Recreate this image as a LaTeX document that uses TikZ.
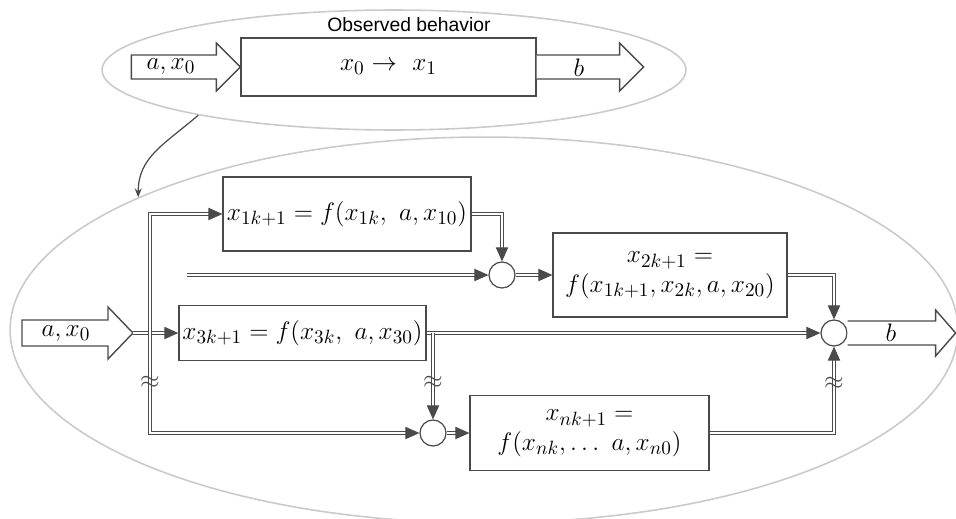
\documentclass[tikz,border=0pt]{standalone}
\usepackage{fontspec}
\newfontfamily\obsfont{Liberation Sans}
\usetikzlibrary{arrows.meta,calc,shapes.geometric}
\definecolor{ln}{HTML}{4A4A4A}
\definecolor{oval}{HTML}{CACACA}
\tikzset{
  >={Triangle[length=8pt,width=7pt]},
  eqbox/.style={draw=ln,line width=0.7pt,fill=white,inner sep=2pt,align=center,
    font=\fontsize{15.5}{17}\selectfont},
  sumnode/.style={circle,draw=ln,line width=0.7pt,fill=white,minimum size=0.52cm,
    inner sep=0pt},
  dline/.style={->,draw=ln,line width=0.65pt,double=white,double distance=0.9pt},
  blkarrow/.style={draw=ln,line width=0.8pt,fill=white,line join=miter},
  blklbl/.style={font=\fontsize{15.5}{17}\selectfont,inner sep=0pt},
  ovalbg/.style={ellipse,draw=oval,line width=0.9pt,inner sep=0pt},
  brk/.style={font=\fontsize{14}{14}\selectfont,inner sep=0pt,text=ln},
  linkarc/.style={-{Stealth[length=5pt,width=4pt]},draw=ln,line width=0.7pt},
}
\begin{document}
\begin{tikzpicture}[x=0.02cm,y=-0.02cm]
  \useasboundingbox (0,0) rectangle (956,518);
  \begin{scope}
    \clip (0,0) rectangle (956,518);
    \node[ovalbg,minimum width=11.68cm,minimum height=2.4cm] (obsview) at (394,70) {};
    \node[ovalbg,minimum width=18.96cm,minimum height=7.72cm] (model) at (484,330) {};
  \end{scope}

  \node[font=\obsfont\fontsize{11}{13}\selectfont] (obslbl) at (409,25) {Observed behavior};
  \node[eqbox,minimum width=5.9cm,minimum height=1.16cm] (obsbox) at (388.5,67)
    {$x_0 \rightarrow\ x_1$};
  \draw[blkarrow] (obsbox.west) -- ++(-24,-24) -- ++(0,12) -- ++(-85,0) -- ++(0,24)
    -- ++(85,0) -- ++(0,12) -- cycle;
  \node[blklbl] (inlbltop) at (171,67) {$a, x_0$};
  \draw[blkarrow] ($(obsbox.east)+(0,-12)$) -- ++(83,0) -- ++(0,-12) -- ++(24,24)
    -- ++(-24,24) -- ++(0,-12) -- ++(-83,0);
  \node[blklbl] (outlbltop) at (579,68) {$b$};
  \draw[linkarc] (obsview.193) .. controls +(-35,30) and +(0,-40) .. (model.159);

  \node[eqbox,minimum width=4.96cm,minimum height=1.48cm] (eqone) at (347,214)
    {$x_{1k+1} = f(x_{1k},\ a, x_{10})$};
  \node[eqbox,minimum width=4.9cm,minimum height=1.1cm] (eqthree) at (302.5,333)
    {$x_{3k+1} = f(x_{3k},\ a, x_{30})$};
  \node[eqbox,minimum width=4.68cm,minimum height=1.68cm] (eqtwo) at (670,275)
    {$x_{2k+1} =$\\$f(x_{1k+1}, x_{2k}, a, x_{20})$};
  \node[eqbox,minimum width=4.78cm,minimum height=1.5cm] (eqn) at (589.5,433)
    {$x_{nk+1} =$\\$f(x_{nk},\ldots\ a, x_{n0})$};
  \node[sumnode] (sumone) at (502,275) {};
  \node[sumnode] (sumn) at (433,433) {};
  \node[sumnode] (sumout) at (834,333) {};

  \coordinate (intip) at (133,333);
  \draw[blkarrow] (intip) -- ++(-25,-26) -- ++(0,13) -- ++(-86,0) -- ++(0,26)
    -- ++(86,0) -- ++(0,13) -- cycle;
  \node[blklbl] (inlbl) at (66,334) {$a, x_0$};
  \draw[blkarrow] ($(sumout.east)+(0,-12)$) -- ++(88,0) -- ++(0,-11) -- ++(20,23)
    -- ++(-20,23) -- ++(0,-11) -- ++(-88,0);
  \node[blklbl] (outlbl) at (891,333) {$b$};

  \coordinate (bus) at (150,333);
  \coordinate (feed) at (187,275);
  \coordinate (tap) at (sumn |- eqthree.east);
  \draw[dline] (intip) -- (eqthree.west);
  \draw[dline] (bus) |- (eqone.west);
  \draw[dline] (bus) |- (sumn.west);
  \draw[dline] (feed) -- (sumone.west);
  \draw[dline] (eqone.east) -| (sumone.north);
  \draw[dline] (sumone.east) -- (eqtwo.west);
  \draw[dline] (eqtwo.east) -| (sumout.north);
  \draw[dline] (eqthree.east) -- (sumout.west);
  \draw[dline] (tap) -- (sumn.north);
  \draw[dline] (sumn.east) -- (eqn.west);
  \draw[dline] (eqn.east) -| (sumout.south);
  \node[brk] (brkbus) at (150,382) {$\approx$};
  \node[brk] (brktap) at (433,382) {$\approx$};
  \node[brk] (brkout) at (834,383) {$\approx$};
\end{tikzpicture}
\end{document}
